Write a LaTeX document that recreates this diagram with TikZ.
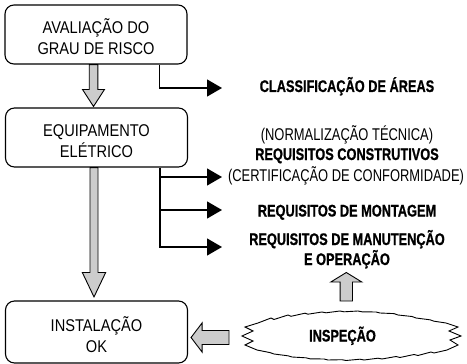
\documentclass[tikz,border=0pt]{standalone}
\usepackage{fontspec}
\setmainfont{Liberation Sans}
\newfontfamily\boxfont[FakeStretch=0.86]{Liberation Sans}
\newfontfamily\sidefont[FakeStretch=0.76,BoldFeatures={FakeStretch=0.76,FakeBold=0.8}]{Liberation Sans}
\usetikzlibrary{arrows.meta,calc}
\begin{document}
\begin{tikzpicture}[x=1pt,y=-1pt,
  box/.style={draw,line width=1.1pt,rounded corners=9pt,minimum width=182pt,inner sep=0pt},
  boxtext/.style={font=\boxfont\fontsize{17}{21}\selectfont,align=center,inner sep=0pt},
  side/.style={font=\sidefont\fontsize{17}{20}\selectfont,anchor=base,inner sep=0pt},
  sideb/.style={font=\sidefont\bfseries\fontsize{16.8}{20}\selectfont,anchor=base,inner sep=0pt},
  blk/.style={-{Triangle[length=15pt,width=17pt]},line width=1.3pt},
  fat/.style={draw,line width=0.9pt,fill=black!20,line join=miter}]
\useasboundingbox (0,0) rectangle (467,364);

% boxes
\node[box,minimum height=59pt] (a) at (96,34.5) {};
\node[boxtext] (at) at (96,36.5) {AVALIAÇÃO DO\\GRAU DE RISCO};
\node[box,minimum height=59pt] (b) at (96.5,137.5) {};
\node[boxtext] (bt) at (96.5,141.5) {EQUIPAMENTO\\ELÉTRICO};
\node[box,minimum height=62pt] (c) at (96.5,332) {};
\node[boxtext] (ct) at (96.5,335) {INSTALAÇÃO\\OK};

% side texts
\node[sideb] (t1) at (347,92) {CLASSIFICAÇÃO DE ÁREAS};
\node[side] (t2) at (347,140) {(NORMALIZAÇÃO TÉCNICA)};
\node[sideb] (t3) at (347,160) {REQUISITOS CONSTRUTIVOS};
\node[side] (t4) at (346,181) {(CERTIFICAÇÃO DE CONFORMIDADE)};
\node[sideb] (t5) at (347,216.5) {REQUISITOS DE MONTAGEM};
\node[sideb] (t6) at (347,245) {REQUISITOS DE MANUTENÇÃO};
\node[sideb] (t7) at (347,265) {E OPERAÇÃO};

% cloud
\draw[line width=0.9pt,fill=white,line join=miter]
 (258,323) -- (271,318) -- (274,319.5) -- (288,315) -- (291,316.3) -- (305,313.2) -- (308,314.2) -- (322,312) -- (326,312.8) -- (340,311) -- (344,311.8) -- (358,311) -- (362,311.8) -- (376,312) -- (380,313) -- (394,313.6) -- (398,315) -- (412,316.5) -- (416,318) -- (430,319.8) -- (434,321.2) -- (446,323)
 -- (458,327) -- (449,331) -- (461,336) -- (450,340) -- (458,345) -- (447,350)
 -- (434,353) -- (431,352) -- (418,355.5) -- (414,354.5) -- (400,357.5) -- (396,356.5) -- (382,359) -- (378,358.2) -- (364,360) -- (360,359.2) -- (346,360.5) -- (342,359.7) -- (328,360) -- (324,359) -- (310,358.8) -- (306,357.8) -- (292,357) -- (288,355.8) -- (274,354) -- (270,352.6) -- (257,350)
 -- (245,345) -- (253,341) -- (242,336) -- (253,331) -- (245,327) -- cycle;
\node[sideb] (insp) at (342.5,341.5) {INSPEÇÃO};

% black arrows
\coordinate (e1) at (222,88);
\coordinate (e2) at (222,177);
\coordinate (e3) at (222,210);
\coordinate (e4) at (222,247);
\coordinate (br) at ([xshift=155pt]b.south west);
\draw[blk] ([xshift=155pt]a.south west) |- (e1);
\draw[blk] (br) |- (e4);
\draw[blk] (br |- e2) -- (e2);
\draw[blk] (br |- e3) -- (e3);

% block arrows
\draw[fat] let \p1=([xshift=-2.5pt]a.south), \p2=(b.north) in
 (\x1-4.3pt,\y1) -- (\x1-4.3pt,\y2+18pt) -- (\x1-11pt,\y2+18pt) -- (\x1,\y2+1pt) -- (\x1+11pt,\y2+18pt) -- (\x1+4.3pt,\y2+18pt) -- (\x1+4.3pt,\y1) -- cycle;
\draw[fat] let \p1=([xshift=-2.5pt]b.south), \p2=([yshift=3.5pt]c.north) in
 (\x1-4pt,\y1) -- (\x1-4pt,\y2+24.5pt) -- (\x1-11.7pt,\y2+24.5pt) -- (\x1,\y2) -- (\x1+11.7pt,\y2+24.5pt) -- (\x1+4pt,\y2+24.5pt) -- (\x1+4pt,\y1) -- cycle;
\coordinate (l1) at (229,337.5);
\draw[fat] let \p1=(l1), \p2=(c.east) in
 (\x1,\y1+7pt) -- (\x2+14pt,\y1+7pt) -- (\x2+14pt,\y1+14.5pt) -- (\x2+3pt,\y1) -- (\x2+14pt,\y1-14.5pt) -- (\x2+14pt,\y1-7pt) -- (\x1,\y1-7pt) -- cycle;
\coordinate (u1) at (346.3,301);
\coordinate (u2) at (346.3,272.5);
\draw[fat] let \p1=(u1), \p2=(u2) in
 (\x1-6.2pt,\y1) -- (\x1-6.2pt,\y2-9.5pt) -- (\x1-15.5pt,\y2-9.5pt) -- (\x2,\y2) -- (\x1+15.5pt,\y2-9.5pt) -- (\x1+6.2pt,\y2-9.5pt) -- (\x1+6.2pt,\y1) -- cycle;
\end{tikzpicture}
\end{document}
